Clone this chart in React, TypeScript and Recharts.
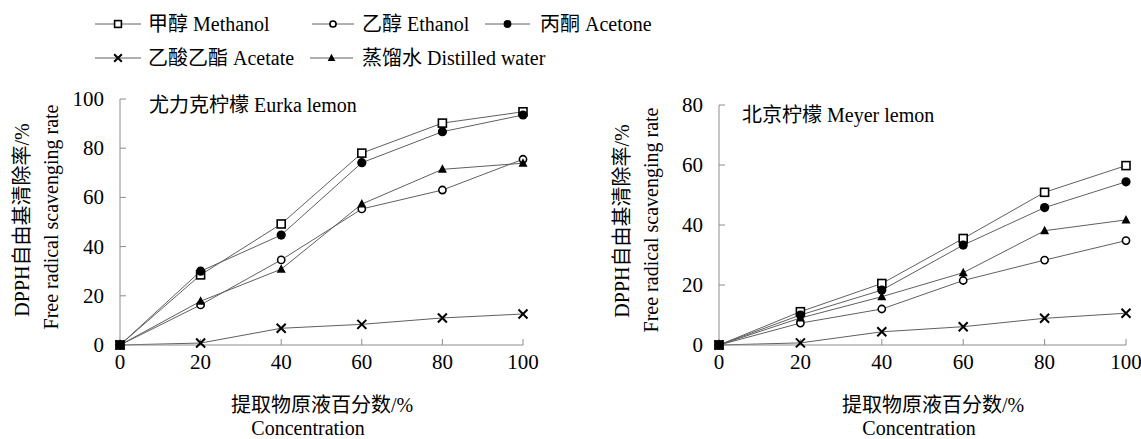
import { LineChart, Line, XAxis, YAxis } from "recharts";

const concentration = [0, 20, 40, 60, 80, 100];

// 尤力克柠檬 Eurka lemon
const eurkaMethanol = [0, 28.5, 49.2, 78, 90.2, 94.8];
const eurkaEthanol = [0, 16.3, 34.6, 55.3, 63, 75.5];
const eurkaAcetone = [0, 30, 44.7, 74.1, 86.7, 93.5];
const eurkaAcetate = [0, 0.8, 6.8, 8.4, 11, 12.6];
const eurkaWater = [0, 17.8, 30.8, 57.3, 71.4, 73.9];

// 北京柠檬 Meyer lemon
const meyerMethanol = [0, 11.1, 20.5, 35.5, 50.9, 59.8];
const meyerEthanol = [0, 7.3, 12, 21.5, 28.3, 34.8];
const meyerAcetone = [0, 10, 18.3, 33.3, 45.8, 54.4];
const meyerAcetate = [0, 0.7, 4.4, 6.1, 8.9, 10.6];
const meyerWater = [0, 9, 16.1, 24.1, 38.1, 41.7];

const eurkaTicks = [0, 20, 40, 60, 80, 100];
const meyerTicks = [0, 20, 40, 60, 80];

const seriesNames = ["甲醇 Methanol", "乙醇 Ethanol", "丙酮 Acetone", "乙酸乙酯 Acetate", "蒸馏水 Distilled water"];
const seriesKeys = ["methanol", "ethanol", "acetone", "acetate", "water"];
const markerKinds = ["square", "openCircle", "dot", "cross", "triangle"];

const FONT = "'Liberation Serif', 'Times New Roman', 'Noto Sans CJK SC', serif";
const AXIS = "#8c8c8c";
const LINE = "#606060";

function buildRows(cols: number[][]) {
  return concentration.map((c, i) => {
    const row: Record<string, number> = { c };
    seriesKeys.forEach((k, j) => (row[k] = cols[j][i]));
    return row;
  });
}

const eurkaData = buildRows([eurkaMethanol, eurkaEthanol, eurkaAcetone, eurkaAcetate, eurkaWater]);
const meyerData = buildRows([meyerMethanol, meyerEthanol, meyerAcetone, meyerAcetate, meyerWater]);

function Marker({ kind, cx, cy, s = 1 }: { kind: string; cx: number; cy: number; s?: number }) {
  if (cx == null || cy == null) return null;
  switch (kind) {
    case "square":
      return <rect x={cx - 4 * s} y={cy - 4 * s} width={8 * s} height={8 * s} fill="#fff" stroke="#000" strokeWidth={1.6} />;
    case "openCircle":
      return <circle cx={cx} cy={cy} r={3.6 * s} fill="#fff" stroke="#000" strokeWidth={1.6} />;
    case "dot":
      return <circle cx={cx} cy={cy} r={4.6 * s} fill="#000" />;
    case "cross":
      return (
        <path
          d={`M${cx - 4.5 * s} ${cy - 4.5 * s}L${cx + 4.5 * s} ${cy + 4.5 * s}M${cx - 4.5 * s} ${cy + 4.5 * s}L${cx + 4.5 * s} ${cy - 4.5 * s}`}
          stroke="#000"
          strokeWidth={2}
        />
      );
    default:
      return <path d={`M${cx} ${cy - 5 * s}L${cx + 4.5 * s} ${cy + 3.5 * s}L${cx - 4.5 * s} ${cy + 3.5 * s}Z`} fill="#000" />;
  }
}

function XTick({ x, y, payload }: any) {
  return (
    <text x={x} y={y + 7} textAnchor="middle" style={{ fontFamily: FONT, fontSize: 21 }} fill="#000">
      {payload.value}
    </text>
  );
}

function YTick({ x, y, payload }: any) {
  return (
    <text x={x} y={y + 7} textAnchor="end" style={{ fontFamily: FONT, fontSize: 21 }} fill="#000">
      {payload.value}
    </text>
  );
}

function Panel({ data, ticks, max, left, width, margin }: {
  data: Record<string, number>[];
  ticks: number[];
  max: number;
  left: number;
  width: number;
  margin: { top: number; right: number; bottom: number; left: number };
}) {
  return (
    <div style={{ position: "absolute", left, top: 0 }}>
      <LineChart width={width} height={439} data={data} margin={margin}>
        <XAxis
          dataKey="c"
          type="number"
          domain={[0, 100]}
          ticks={concentration}
          height={30}
          axisLine={{ stroke: AXIS }}
          tickLine={{ stroke: AXIS }}
          tickSize={-6}
          tickMargin={23}
          tick={<XTick />}
        />
        <YAxis
          type="number"
          domain={[0, max]}
          ticks={ticks}
          width={60}
          axisLine={{ stroke: AXIS }}
          tickLine={{ stroke: AXIS }}
          tickSize={-6}
          tickMargin={22}
          tick={<YTick />}
        />
        {seriesKeys.map((k, j) => (
          <Line
            key={k}
            dataKey={k}
            type="linear"
            stroke={LINE}
            strokeWidth={1}
            isAnimationActive={false}
            dot={(p: any) => <Marker key={`${k}-${p.index}`} kind={markerKinds[j]} cx={p.cx} cy={p.cy} />}
            activeDot={false}
          />
        ))}
      </LineChart>
    </div>
  );
}

const legendItems = [
  { x1: 95, x2: 141, tx: 148, row: 0 },
  { x1: 312, x2: 354, tx: 362, row: 0 },
  { x1: 485, x2: 530, tx: 540, row: 0 },
  { x1: 95, x2: 141, tx: 148, row: 1 },
  { x1: 310, x2: 353, tx: 362, row: 1 },
];
const legendRowY = [24, 58];

export default function App() {
  return (
    <div style={{ position: "absolute", left: 0, top: 0, width: 1141, height: 439, background: "#fff", fontFamily: FONT }}>
      <Panel data={eurkaData} ticks={eurkaTicks} max={100} left={0} width={560} margin={{ top: 99, right: 37, bottom: 64, left: 60 }} />
      <Panel data={meyerData} ticks={meyerTicks} max={80} left={580} width={561} margin={{ top: 105, right: 15, bottom: 64, left: 79 }} />
      <svg width={1141} height={439} style={{ position: "absolute", left: 0, top: 0, pointerEvents: "none", fontFamily: FONT }} fill="#000">
        {legendItems.map((it, i) => {
          const y = legendRowY[it.row];
          return (
            <g key={i}>
              <line x1={it.x1} x2={it.x2} y1={y} y2={y} stroke={LINE} strokeWidth={1} />
              <Marker kind={markerKinds[i]} cx={(it.x1 + it.x2) / 2} cy={y} s={0.85} />
              <text x={it.tx} y={y + 7} fontSize={20}>{seriesNames[i]}</text>
            </g>
          );
        })}
        <text x={149} y={112} fontSize={20}>尤力克柠檬 Eurka lemon</text>
        <text x={742} y={122} fontSize={20}>北京柠檬  Meyer lemon</text>

        <text transform="translate(22,220) rotate(-90)" textAnchor="middle" dominantBaseline="central" fontSize={20}>DPPH自由基清除率/%</text>
        <text transform="translate(51,217) rotate(-90)" textAnchor="middle" dominantBaseline="central" fontSize={20}>Free radical scavenging rate</text>
        <text transform="translate(622,221) rotate(-90)" textAnchor="middle" dominantBaseline="central" fontSize={20}>DPPH自由基清除率/%</text>
        <text transform="translate(651,220) rotate(-90)" textAnchor="middle" dominantBaseline="central" fontSize={20}>Free radical scavenging rate</text>

        <text x={322} y={412} textAnchor="middle" fontSize={20}>提取物原液百分数/%</text>
        <text x={308} y={435} textAnchor="middle" fontSize={20}>Concentration</text>
        <text x={933} y={412} textAnchor="middle" fontSize={20}>提取物原液百分数/%</text>
        <text x={919} y={435} textAnchor="middle" fontSize={20}>Concentration</text>
      </svg>
    </div>
  );
}
